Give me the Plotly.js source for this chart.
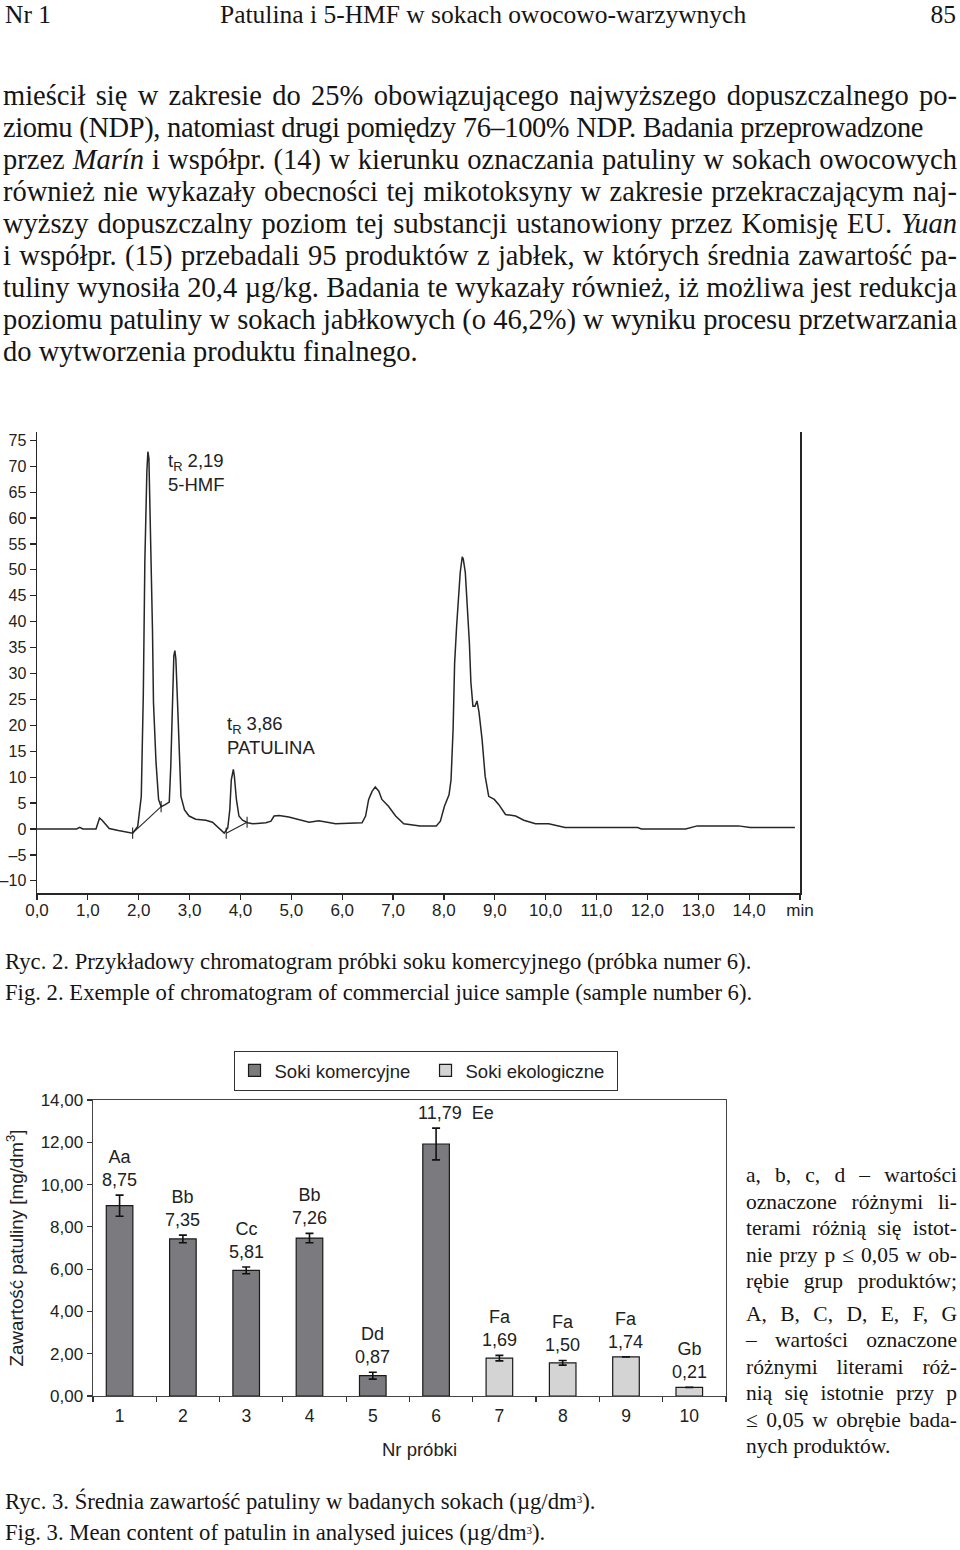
<!DOCTYPE html>
<html>
<head>
<meta charset="utf-8">
<script src="https://cdn.plot.ly/plotly-3.0.1.min.js"></script>
<style>
html,body{margin:0;padding:0;background:#fff;}
#page{position:relative;width:960px;height:1550px;overflow:hidden;font-family:"Liberation Serif","Times New Roman",serif;color:#151515;}
.hdr{position:absolute;top:0;font-size:25.5px;line-height:30px;white-space:nowrap;}
.para{position:absolute;left:3px;top:80px;width:954px;font-size:28.5px;line-height:32px;}
.ln{white-space:nowrap;text-align:justify;text-align-last:justify;}
.ln.last{text-align-last:left;}
.cap{position:absolute;left:5px;font-size:22.7px;line-height:31px;white-space:nowrap;}
.side{position:absolute;left:746px;width:211px;font-size:21.5px;line-height:26.5px;}
.gap{height:6px;}
.sup3{position:relative;top:-0.55em;font-size:11px;line-height:0;}
#chrom{position:absolute;left:0;top:400px;width:960px;height:530px;}
#bars{position:absolute;left:0;top:1040px;width:960px;height:440px;}
</style>
</head>
<body>
<div id="page">
  <div class="hdr" style="left:5px;">Nr 1</div>
  <div class="hdr" style="left:220px;">Patulina i 5-HMF w sokach owocowo-warzywnych</div>
  <div class="hdr" style="right:4px;">85</div>

  <div class="para">
    <div class="ln">mieścił się w zakresie do 25% obowiązującego najwyższego dopuszczalnego po-</div>
    <div class="ln" style="width:920px;">ziomu (NDP), natomiast drugi pomiędzy 76–100% NDP. Badania przeprowadzone</div>
    <div class="ln">przez <i>Marín</i> i współpr. (14) w kierunku oznaczania patuliny w sokach owocowych</div>
    <div class="ln">również nie wykazały obecności tej mikotoksyny w zakresie przekraczającym naj-</div>
    <div class="ln">wyższy dopuszczalny poziom tej substancji ustanowiony przez Komisję EU. <i>Yuan</i></div>
    <div class="ln">i współpr. (15) przebadali 95 produktów z jabłek, w których średnia zawartość pa-</div>
    <div class="ln">tuliny wynosiła 20,4 µg/kg. Badania te wykazały również, iż możliwa jest redukcja</div>
    <div class="ln">poziomu patuliny w sokach jabłkowych (o 46,2%) w wyniku procesu przetwarzania</div>
    <div class="ln last">do wytworzenia produktu finalnego.</div>
  </div>

  <div id="chrom"></div>

  <div class="cap" style="top:946px;">Ryc. 2. Przykładowy chromatogram próbki soku komercyjnego (próbka numer 6).<br>Fig. 2. Exemple of chromatogram of commercial juice sample (sample number 6).</div>

  <div id="bars"></div>

  <div class="side" style="top:1162px;">
    <div class="ln">a, b, c, d – wartości</div>
    <div class="ln">oznaczone różnymi li-</div>
    <div class="ln">terami różnią się istot-</div>
    <div class="ln">nie przy p ≤ 0,05 w ob-</div>
    <div class="ln">rębie grup produktów;</div>
    <div class="gap"></div>
    <div class="ln">A, B, C, D, E, F, G</div>
    <div class="ln">– wartości oznaczone</div>
    <div class="ln">różnymi literami róż-</div>
    <div class="ln">nią się istotnie przy p</div>
    <div class="ln">≤ 0,05 w obrębie bada-</div>
    <div class="ln last">nych produktów.</div>
  </div>

  <div class="cap" style="top:1486px;">Ryc. 3. Średnia zawartość patuliny w badanych sokach (µg/dm<span class="sup3">3</span>).<br>Fig. 3. Mean content of patulin in analysed juices (µg/dm<span class="sup3">3</span>).</div>
</div>

<script>
// shrink letter spacing of any text line whose natural width exceeds its box
document.querySelectorAll('.ln').forEach(el => {
  const target = el.getBoundingClientRect().width;
  const saveW = el.style.width, saveD = el.style.display;
  el.style.width = 'max-content';
  el.style.display = 'block';
  const natural = el.getBoundingClientRect().width;
  el.style.width = saveW;
  el.style.display = saveD;
  if (natural > target - 1) {
    const n = el.textContent.length;
    el.style.letterSpacing = (-(natural - target + 3) / n).toFixed(3) + 'px';
  }
});

// ---------- Chromatogram data ----------
const chromTime = [
  0, 0.78, 0.84, 0.90, 1.16, 1.20, 1.23, 1.28, 1.35, 1.42, 1.60, 1.82, 1.88,
  1.98, 2.05, 2.09, 2.12, 2.16, 2.18, 2.20, 2.22, 2.25, 2.27, 2.29, 2.34, 2.39, 2.44,
  2.52, 2.60, 2.63, 2.66, 2.69, 2.71, 2.73, 2.77, 2.80, 2.83, 2.90, 2.99,
  3.12, 3.32, 3.45, 3.58, 3.68, 3.75, 3.79, 3.82, 3.86, 3.88, 3.92, 3.97, 4.04, 4.14, 4.24,
  4.50, 4.60, 4.66, 4.76, 4.95, 5.35, 5.54, 5.87, 6.39,
  6.46, 6.52, 6.59, 6.65, 6.72, 6.78, 6.91, 7.05, 7.21, 7.53, 7.85,
  7.93, 8.01, 8.10, 8.14, 8.18, 8.21, 8.25, 8.29, 8.32, 8.36, 8.38, 8.42, 8.45, 8.50,
  8.53, 8.57, 8.61, 8.65, 8.69, 8.75, 8.81, 8.88, 8.99, 9.08, 9.21, 9.41, 9.57, 9.80,
  10.06, 10.38, 11.81, 11.88, 12.75, 12.98, 13.79, 14.02, 14.90
];
const chromSignal = [
  0, 0, 0.3, 0, 0, 1.2, 2.1, 1.7, 0.8, 0.1, -0.3, -0.6, -0.8,
  0.5, 6.3, 26, 51.5, 69, 72.8, 71.5, 62.5, 52.8, 38.6, 24.4, 12.8, 5.7, 4.3,
  4.7, 5.2, 12.1, 23.7, 33.4, 34.4, 32.8, 22.5, 12.8, 6.3, 3.7, 2.5,
  1.9, 1.7, 1.3, 0.2, -0.8, 0.2, 3.7, 9.5, 11.5, 10.2, 5.7, 2.5, 1.7, 1.2, 1.0,
  1.2, 1.5, 2.5, 2.6, 2.3, 1.3, 1.6, 1.0, 1.2,
  2.5, 5.7, 7.3, 8.1, 7.3, 5.7, 4.4, 2.5, 1.0, 0.6, 0.6,
  1.5, 4.4, 6.6, 9.5, 19.2, 32, 39.2, 45, 49.5, 52.5, 52.1, 49.5, 44.4, 36,
  28.3, 23.7, 23.7, 24.7, 22.5, 17.3, 10.2, 6.3, 5.7, 4.7, 2.8, 2.5, 1.7, 1.0,
  1.0, 0.3, 0.3, 0, 0, 0.6, 0.6, 0.3, 0.3
];
// integration baselines drawn under the 5-HMF and patulin peaks
const hmfBaseTime = [1.88, 2.44];
const hmfBaseSignal = [-0.8, 4.3];
const patBaseTime = [3.72, 4.13];
const patBaseSignal = [-0.8, 1.3];

const chromXTickVals = [0,1,2,3,4,5,6,7,8,9,10,11,12,13,14,15];
const chromXTickText = ['0,0','1,0','2,0','3,0','4,0','5,0','6,0','7,0','8,0','9,0','10,0','11,0','12,0','13,0','14,0','min'];
const chromYTickVals = [-10,-5,0,5,10,15,20,25,30,35,40,45,50,55,60,65,70,75];
const chromYTickText = ['–10','–5','0','5','10','15','20','25','30','35','40','45','50','55','60','65','70','75'];
const peakLabels = ['t<sub>R</sub> 2,19<br>5-HMF', 't<sub>R</sub> 3,86<br>PATULINA'];

// ---------- Bar chart data ----------
const sampleNumbers = ['1','2','3','4','5','6','7','8','9','10'];
const commercialSamples = ['1','2','3','4','5','6'];
const commercialMeans = [9.0, 7.43, 5.94, 7.47, 0.96, 11.92];
const commercialErr = [0.50, 0.18, 0.16, 0.22, 0.16, 0.75];
const organicSamples = ['7','8','9','10'];
const organicMeans = [1.79, 1.57, 1.85, 0.41];
const organicErr = [0.13, 0.11, 0, 0];
const groupLetters = ['Aa','Bb','Cc','Bb','Dd','Ee','Fa','Fa','Fa','Gb'];
const valueLabels = ['8,75','7,35','5,81','7,26','0,87','11,79','1,69','1,50','1,74','0,21'];
const barYTickVals = [0,2,4,6,8,10,12,14];
const barYTickText = ['0,00','2,00','4,00','6,00','8,00','10,00','12,00','14,00'];
const seriesNames = ['Soki komercyjne','Soki ekologiczne'];
const barXTitle = 'Nr próbki';
const barYTitle = 'Zawartość patuliny [mg/dm<sup>3</sup>]';

const SANS = 'Liberation Sans, Arial, sans-serif';
const LINE = '#262626';

// ---------- Chromatogram ----------
const chromTraces = [
  {x: chromTime, y: chromSignal, type:'scatter', mode:'lines',
   line:{color:LINE, width:1.5}, hoverinfo:'skip'},
  {x: hmfBaseTime, y: hmfBaseSignal, type:'scatter', mode:'lines+markers',
   line:{color:LINE, width:1.1}, marker:{symbol:'line-ns', size:8, line:{color:LINE, width:1.1}}, hoverinfo:'skip'},
  {x: patBaseTime, y: patBaseSignal, type:'scatter', mode:'lines+markers',
   line:{color:LINE, width:1.1}, marker:{symbol:'line-ns', size:8, line:{color:LINE, width:1.1}}, hoverinfo:'skip'}
];
const annFont = {family:SANS, size:18.5, color:'#222'};
const chromLayout = {
  width:960, height:530,
  margin:{l:37, r:160, t:32, b:37},
  paper_bgcolor:'rgba(0,0,0,0)', plot_bgcolor:'#ffffff',
  showlegend:false,
  xaxis:{range:[0,15], tickmode:'array', tickvals:chromXTickVals, ticktext:chromXTickText,
         ticks:'outside', ticklen:5, tickwidth:1.2, tickcolor:LINE, ticklabelstandoff:-4,
         showline:true, linecolor:LINE, linewidth:1.5, showgrid:false, zeroline:false,
         tickfont:{family:SANS, size:17, color:'#222'}, fixedrange:true},
  yaxis:{range:[-12.35,76.6], tickmode:'array', tickvals:chromYTickVals, ticktext:chromYTickText,
         ticks:'outside', ticklen:6, tickwidth:1.2, tickcolor:LINE,
         showline:true, mirror:true, linecolor:LINE, linewidth:1.5, showgrid:false, zeroline:false,
         tickfont:{family:SANS, size:16, color:'#222'}, fixedrange:true},
  annotations:[
    {x:2.53, y:68.7, xref:'x', yref:'y', text:peakLabels[0], showarrow:false,
     xanchor:'left', yanchor:'middle', align:'left', font:annFont},
    {x:3.69, y:18.1, xref:'x', yref:'y', text:peakLabels[1], showarrow:false,
     xanchor:'left', yanchor:'middle', align:'left', font:annFont}
  ]
};
Plotly.newPlot('chrom', chromTraces, chromLayout, {staticPlot:true, displayModeBar:false});

// ---------- Bar chart ----------
const BAR_W = 0.42, BAR_OFF = -0.29;
const barTraces = [
  {x: commercialSamples, y: commercialMeans, name: seriesNames[0], type:'bar', width:BAR_W, offset:BAR_OFF,
   marker:{color:'#7a7a7f', line:{color:'#1a1a1a', width:1.2}},
   error_y:{type:'data', array:commercialErr, visible:true, color:'#111', thickness:1.6, width:4}},
  {x: organicSamples, y: organicMeans, name: seriesNames[1], type:'bar', width:BAR_W, offset:BAR_OFF,
   marker:{color:'#d4d4d4', line:{color:'#1a1a1a', width:1.2}},
   error_y:{type:'data', array:organicErr, visible:true, color:'#111', thickness:1.6, width:4}}
];
const allMeans = commercialMeans.concat(organicMeans);
const allErr = commercialErr.concat(organicErr);
const barAnnotations = sampleNumbers.map((s, i) => {
  const special = (i === 5);
  return {
    x: i + BAR_OFF + BAR_W / 2, y: allMeans[i] + allErr[i], xref:'x', yref:'y', showarrow:false,
    text: special ? (valueLabels[i] + '\u00a0\u00a0' + groupLetters[i]) : (groupLetters[i] + '<br>' + valueLabels[i]),
    xanchor:'center', yanchor:'bottom', yshift:3, xshift: special ? 20 : 0,
    font:{family:SANS, size:18, color:'#222'}
  };
});
barAnnotations.push({
  x:0.516, y:-0.182, xref:'paper', yref:'paper', showarrow:false,
  text:barXTitle, xanchor:'center', yanchor:'middle',
  font:{family:SANS, size:18.5, color:'#222'}
});
const barLayout = {
  width:960, height:440,
  margin:{l:93, r:234, t:59, b:84},
  paper_bgcolor:'rgba(0,0,0,0)', plot_bgcolor:'#ffffff',
  barmode:'overlay',
  showlegend:true,
  legend:{orientation:'h', x:0.222, y:1.162, xanchor:'left', yanchor:'top',
          bordercolor:'#333', borderwidth:1, bgcolor:'#fff',
          font:{family:SANS, size:18.5, color:'#222'}, traceorder:'normal',
          entrywidth:146, entrywidthmode:'pixels'},
  xaxis:{type:'category', categoryorder:'array', categoryarray:sampleNumbers, range:[-0.5, 9.5],
         tickson:'boundaries', ticks:'outside', ticklen:5, tickwidth:1.2, tickcolor:'#333',
         ticklabelstandoff:4, ticklabelshift:-5,
         showline:true, mirror:true, linecolor:'#444', linewidth:1.4, showgrid:false,
         tickfont:{family:SANS, size:17.5, color:'#222'}, fixedrange:true},
  yaxis:{range:[0,14], tickmode:'array', tickvals:barYTickVals, ticktext:barYTickText,
         ticks:'outside', ticklen:5, tickwidth:1.2, tickcolor:'#333',
         showline:true, mirror:true, linecolor:'#444', linewidth:1.4, showgrid:false, zeroline:false,
         tickfont:{family:SANS, size:17, color:'#222'},
         title:{text:barYTitle, font:{family:SANS, size:18.8, color:'#222'}, standoff:12}, fixedrange:true},
  annotations: barAnnotations
};
Plotly.newPlot('bars', barTraces, barLayout, {staticPlot:true, displayModeBar:false});
</script>
</body>
</html>
